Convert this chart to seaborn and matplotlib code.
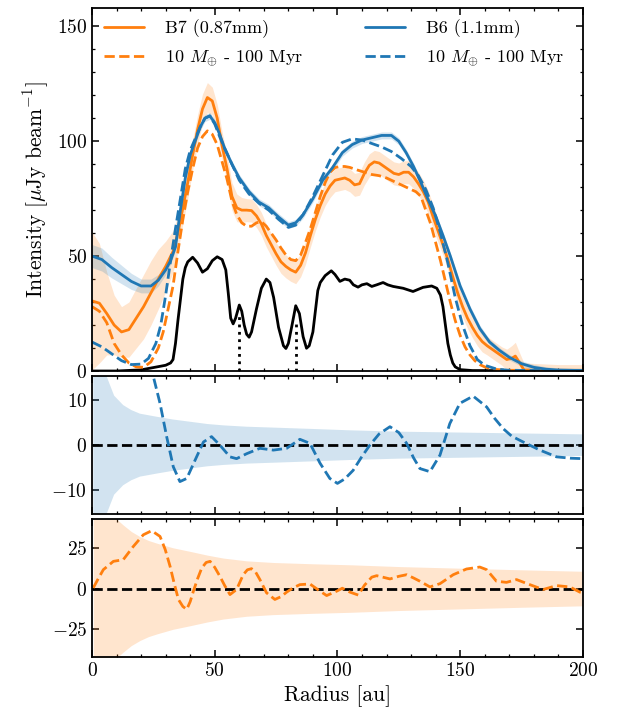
import numpy as np
import pandas as pd
import seaborn as sns
import matplotlib
matplotlib.use("Agg")
import matplotlib.pyplot as plt

# ---- radial profiles (top panel) ----
r_b6 = [0, 4, 8, 12, 16, 20, 24, 27, 30, 32, 34, 36, 38, 40, 42, 44, 46, 48, 50, 52, 54, 57,
        60, 64, 68, 72, 76, 80, 83, 86, 90, 94, 98, 102, 106, 110, 114, 118, 122, 125, 128,
        131, 134, 137, 140, 143, 146, 150, 154, 158, 162, 166, 170, 175, 180, 185, 190, 200]
b6 = [50, 48.5, 45, 42, 39, 37, 37, 39.5, 44, 48, 54, 70, 84, 94, 100, 106, 110, 111, 108,
      103, 97, 90, 84, 78, 73.5, 71, 67, 63.5, 64.5, 68, 75, 83, 88.5, 95, 98.5, 100.5, 101.5,
      102.5, 102.5, 100, 95, 89, 82, 74.5, 67.5, 59, 50, 37, 27, 18.5, 12.6, 9, 6, 3.2, 1.6,
      0.8, 0.4, 0.2]
b6_err = [5, 5, 4.5, 4, 3.5, 3, 3, 2.5, 2, 1.5, 1.5, 1.5, 1.5, 1.5, 1.5, 1.5, 1.5, 1.5, 1.5,
          1.5, 1.5, 1.5, 1.5, 1.5, 1.5, 1.5, 1.5, 1.5, 1.5, 1.5, 1.5, 1.5, 1.5, 1.5, 1.5, 1.5,
          1.5, 1.5, 1.5, 1.5, 1.5, 1.5, 1.5, 1.5, 1.5, 1.5, 1.5, 1.5, 1.5, 1.5, 1.2, 1.2, 1.2,
          1.2, 1.2, 1, 1, 1]

r_b6_mod = [0, 4, 8, 12, 16, 20, 23, 26, 28, 30, 32, 34, 36, 38, 40, 42, 44, 46, 48, 50, 52,
            54, 57, 60, 64, 68, 72, 76, 80, 83, 86, 90, 94, 98, 102, 106, 110, 114, 118, 122,
            126, 130, 133, 136, 139, 142, 145, 148, 151, 154, 157, 160, 165, 170, 200]
b6_mod = [12.6, 10.5, 7.5, 4.5, 2.8, 3, 5.5, 12, 20, 33, 48, 62, 75, 88, 96, 101, 106, 110,
          111, 107.5, 102, 97, 90, 83, 77, 73, 70, 66, 62.5, 63.5, 68, 76, 85, 94, 99.5, 101,
          100.5, 99, 97.5, 95.5, 92.5, 89, 85, 79, 71, 60, 47, 32, 20, 11, 5, 2.5, 0.8, 0.3, 0.1]

r_b7 = [0, 3, 6, 9, 12, 15, 18, 21, 24, 27, 30, 33, 35, 37, 39, 41, 43, 45, 47, 49, 51, 53,
        55, 57, 59, 61, 63, 65, 67, 69, 71, 73, 75, 77, 79, 81, 83, 85, 87, 89, 91, 93, 95,
        97, 99, 101, 103, 105, 107, 109, 111, 113, 115, 117, 119, 121, 123, 125, 127, 129,
        131, 133, 135, 137, 139, 141, 143, 145, 147, 149, 151, 153, 155, 157, 159, 161, 163,
        165, 167, 169, 171, 172.5, 174, 176, 180, 190, 200]
b7 = [30.5, 29.5, 25, 20, 17, 18, 23, 28, 34, 40, 45.5, 52, 60, 71, 82, 94, 105, 114, 119,
      117.5, 110, 98, 88, 76, 71, 70, 70, 69.8, 67.5, 64, 59, 55, 51, 47.5, 45.5, 44, 43, 46,
      51.5, 59, 66, 72, 77, 80.5, 83, 83.5, 84, 83, 81, 81.5, 86, 89.5, 91, 90.5, 89, 87.5,
      86, 85.5, 86.5, 86.5, 84.5, 81.5, 78, 73.5, 67, 61, 55, 48.5, 41, 34, 28, 23, 19, 15.5,
      12.8, 11, 9.5, 8, 6.5, 5, 5.5, 6.5, 4, 0.5, 0.3, 0.3, 0.3]
b7_err = [30, 26, 18, 13, 11, 12, 13, 14, 14, 13, 11, 9, 8, 7, 7, 6.5, 6.5, 6.5, 6.5, 6, 6,
          6, 6, 6, 6, 5.5, 5, 5, 5, 5, 5, 5, 5, 5, 5, 5, 5, 5, 5, 5, 5, 5, 5, 5, 5, 5, 5, 5, 5,
          5, 5, 5, 5, 5, 5, 5, 5, 5, 5, 5, 5, 5, 5, 5, 5, 5, 4.5, 4.5, 4.5, 4.5, 4.5, 4.5, 4.5,
          4.5, 4.5, 4, 4, 4, 4, 4.5, 5.5, 6, 4.5, 3, 3, 2.5, 2.5]

r_b7_mod = [0, 3, 6, 9, 12, 15, 18, 21, 24, 27, 29, 31, 33, 35, 37, 39, 41, 43, 45, 47, 49,
            51, 53, 55, 57, 59, 61, 63, 65, 67, 69, 71, 73, 75, 77, 79, 81, 83, 85, 87, 89, 91,
            93, 95, 97, 99, 101, 103, 105, 108, 111, 114, 117, 120, 123, 126, 129, 132, 134,
            136, 138, 140, 142, 144, 146, 148, 150, 152, 154, 156, 158, 160, 164, 170, 200]
b7_mod = [28, 26, 21, 12, 7, 3.5, 1.8, 1.6, 4, 10, 17, 27, 37, 52, 66, 78, 88, 97, 102,
          104.5, 103, 98.5, 91, 83.5, 74, 68, 64.5, 63, 63, 64.5, 65, 63, 60, 57, 53.5, 50.5,
          48.5, 48, 50.5, 56, 62, 69, 76, 82, 86.5, 88.5, 89, 89, 88.6, 87.5, 86.5, 85.5, 85,
          84, 82.5, 81, 79.5, 78, 76, 70, 64, 56, 48, 39, 30, 22, 15.5, 10.5, 7, 4.5, 2.8,
          1.8, 0.7, 0.3, 0.2]

r_black = [0, 10, 20, 25, 30, 32, 33, 34, 35, 36, 37, 38, 39, 41, 43, 45, 47, 49, 51, 53,
           54.5, 55.5, 56.5, 57.5, 58.5, 60, 61, 62, 63, 64, 65, 67, 69, 71, 72.5, 74, 76, 78,
           79, 80, 81.5, 83, 84.5, 86, 87.4, 88.5, 90, 91, 92, 93, 95, 97.5, 99, 101, 103, 105,
           106.5, 108.4, 110, 112, 114, 116, 118.6, 120.5, 122.7, 126.8, 130.8, 134.9, 138.4,
           140.5, 142, 143, 144, 145, 146, 147, 148, 150, 155, 200]
black = [0, 0, 0.5, 1.5, 2.5, 3.5, 5, 12, 22, 31, 40, 45, 47.5, 49.5, 47, 43, 44.5, 48, 49.7,
         48.5, 44, 34, 23, 20.5, 23, 28.7, 26, 20, 16, 14.7, 17, 27, 36, 40, 38.5, 32, 19, 11,
         9.8, 12, 20, 28.4, 25, 15, 9.9, 11, 17, 26, 35, 38.5, 41.5, 43.6, 42, 39, 40, 39.5,
         37.5, 36.5, 37.5, 38, 36.8, 37.5, 38.5, 37.5, 36.8, 36, 34.6, 36.4, 37, 36, 33, 28, 20,
         12, 7, 3.5, 1.8, 0.6, 0.2, 0.1]

planet_r = [60, 83]
planet_top = [24, 22]

# ---- residuals (middle: B6, bottom: B7) ----
r_res6 = [0, 10, 18, 22, 25, 27.7, 30.4, 33.1, 35.8, 38.6, 42.6, 45.4, 48.7, 52.1, 56.2, 58.9,
          63, 68.4, 73.9, 79.3, 84.7, 88.8, 92.9, 96.9, 100, 103, 106.4, 110, 113.2, 117, 121.4,
          125, 128.2, 131, 133.6, 137.7, 141.8, 145.8, 149.9, 155.3, 160.8, 164, 167.5, 171,
          175.7, 182.5, 189.3, 195, 200]
res6 = [40, 35, 28, 21, 15.2, 9.3, 1.9, -4.8, -8.1, -7.4, -2.6, 0.7, 1.9, 0, -2.6, -3, -1.9,
        -0.7, -1.1, -0.7, 1.3, 0.4, -4, -7.4, -8.5, -7.5, -5.6, -2.5, 0, 2.5, 4.1, 2.8, 0.4,
        -2.8, -5.2, -5.9, -2.2, 4.8, 9.3, 10.9, 8.5, 6, 3.7, 2, 0.7, -1.1, -2.6, -2.9, -3]

r_noise6 = [0.5, 2, 4, 6, 9, 12.7, 16, 19.5, 26.5, 33, 40, 47, 53.5, 63, 74, 90, 105, 125,
            150, 175, 200]
noise6 = [80, 40, 22, 15.2, 11, 8.9, 7.8, 7, 6.3, 5.7, 5.2, 4.7, 4.4, 4.1, 3.9, 3.6, 3.3, 3,
          2.8, 2.6, 2.4]

r_res7 = [0.5, 2.5, 4.6, 8.7, 12.7, 16.8, 20.9, 24.3, 27.7, 29.8, 31.8, 33.5, 35.2, 37, 38.6,
          40, 41.3, 43, 44.7, 46.5, 48.1, 50, 52.1, 54, 56.2, 58.9, 61.6, 63.3, 65, 66.7, 68.4,
          71.1, 74.5, 77, 79.3, 82, 84.7, 88.8, 92.9, 95.6, 99.7, 102, 105.1, 108.5, 111, 114,
          116, 121.4, 125, 128.2, 131, 133.6, 137.7, 141.8, 147.2, 152.6, 158, 160.8, 164.8,
          168.9, 173, 178.4, 183.8, 189.3, 194.7, 198.8, 200]
res7 = [0.4, 6, 11.6, 16.7, 17.7, 25.8, 33, 35.5, 32, 24, 13.6, 3, -6.7, -11, -12.8, -8, -1.6,
        6, 12.6, 16, 16.7, 13, 7.5, 2, -3.7, -0.6, 8.5, 11.5, 12.2, 10, 5.5, -2.6, -6.7, -5,
        -2.2, 0.5, 2.4, 2.8, -1.6, -4.3, -1.6, 0.2, -2.2, -4, 2, 7, 7.9, 5.9, 7.5, 8.5, 6.5,
        4.5, 1, 3, 8.5, 12, 13.2, 11.6, 4.5, 3.8, 5.5, 2.4, -0.6, 1.8, 1, -2.2, -2.5]

r_noise7 = [0.5, 2, 5, 8, 10, 12.7, 16, 19.5, 23, 26.5, 33, 40, 47, 53.5, 63, 73.8, 90, 105,
            125, 150, 175, 200]
noise7 = [90, 70, 50, 44, 42.6, 39, 35, 31.9, 29.5, 27.8, 25, 22.8, 20.5, 18.7, 17, 16, 15.2,
          14.6, 13.5, 12.5, 11.5, 10.6]

ORANGE = "#ff7f0e"
BLUE = "#1f77b4"

sns.set_style("ticks")
plt.rcParams["font.family"] = ["cmr10", "DejaVu Serif"]
plt.rcParams["mathtext.fontset"] = "cm"
plt.rcParams["axes.formatter.use_mathtext"] = True
plt.rcParams["axes.unicode_minus"] = True
plt.rcParams["axes.linewidth"] = 1.3
plt.rcParams["axes.edgecolor"] = "black"
plt.rcParams["text.color"] = "black"
plt.rcParams["axes.labelcolor"] = "black"
for a in ("x", "y"):
    plt.rcParams[f"{a}tick.direction"] = "in"
    plt.rcParams[f"{a}tick.major.size"] = 5
    plt.rcParams[f"{a}tick.minor.size"] = 2.5
    plt.rcParams[f"{a}tick.major.width"] = 1.1
    plt.rcParams[f"{a}tick.minor.width"] = 0.9
    plt.rcParams[f"{a}tick.labelsize"] = 14
    plt.rcParams[f"{a}tick.color"] = "black"
    plt.rcParams[f"{a}tick.labelcolor"] = "black"
plt.rcParams["xtick.top"] = True
plt.rcParams["ytick.right"] = True

fig, (ax1, ax2, ax3) = plt.subplots(
    3, 1, figsize=(6.22, 7.18), dpi=100, sharex=True,
    gridspec_kw={"height_ratios": [364, 138, 138], "hspace": 0.025})
fig.subplots_adjust(left=0.148, right=0.937, top=0.989, bottom=0.085)

lw = 2.0

# top panel
b6_lo = np.array(b6) - np.array(b6_err)
b6_hi = np.array(b6) + np.array(b6_err)
b7_lo = np.array(b7) - np.array(b7_err)
b7_hi = np.array(b7) + np.array(b7_err)
ax1.fill_between(r_b7, b7_lo, b7_hi, color=ORANGE, alpha=0.2, lw=0)
ax1.fill_between(r_b6, b6_lo, b6_hi, color=BLUE, alpha=0.2, lw=0)

sns.lineplot(x=r_black, y=black, ax=ax1, color="black", lw=lw, estimator=None, sort=False)
ax1.vlines(planet_r, 0, planet_top, colors="black", linestyles=":", lw=lw)
sns.lineplot(x=r_b7, y=b7, ax=ax1, color=ORANGE, lw=lw, estimator=None, sort=False,
             label="B7 (0.87mm)")
sns.lineplot(x=r_b7_mod, y=b7_mod, ax=ax1, color=ORANGE, lw=lw, ls="--", estimator=None,
             sort=False, label=r"10 $M_{\oplus}$ - 100 Myr")
sns.lineplot(x=r_b6, y=b6, ax=ax1, color=BLUE, lw=lw, estimator=None, sort=False,
             label="B6 (1.1mm)")
sns.lineplot(x=r_b6_mod, y=b6_mod, ax=ax1, color=BLUE, lw=lw, ls="--", estimator=None,
             sort=False, label=r"10 $M_{\oplus}$ - 100 Myr")

ax1.set_ylim(0, 158)
ax1.set_yticks([0, 50, 100, 150])
ax1.set_yticks(np.arange(0, 160, 10), minor=True)
ax1.set_ylabel(r"Intensity [$\mu$Jy beam$^{-1}$]", fontsize=15.5)
ax1.legend(loc="upper left", ncol=2, frameon=False, fontsize=13, columnspacing=3.4,
           handlelength=2.2, handletextpad=1.2, borderaxespad=0.25, labelspacing=0.6)

# middle panel (B6 residual)
n6 = np.array(noise6)
ax2.fill_between(r_noise6, -n6, n6, color=BLUE, alpha=0.2, lw=0)
ax2.axhline(0, color="black", ls="--", lw=lw)
sns.lineplot(x=r_res6, y=res6, ax=ax2, color=BLUE, lw=lw, ls="--", estimator=None, sort=False)
ax2.set_ylim(-15.3, 15.3)
ax2.set_yticks([-10, 0, 10])

# bottom panel (B7 residual)
n7 = np.array(noise7)
ax3.fill_between(r_noise7, -n7, n7, color=ORANGE, alpha=0.2, lw=0)
ax3.axhline(0, color="black", ls="--", lw=lw)
sns.lineplot(x=r_res7, y=res7, ax=ax3, color=ORANGE, lw=lw, ls="--", estimator=None, sort=False)
ax3.set_ylim(-42, 42.5)
ax3.set_yticks([-25, 0, 25])
ax3.set_xlabel("Radius [au]", fontsize=15.5)

for ax in (ax1, ax2, ax3):
    ax.set_xlim(0, 200)
    ax.set_xticks([0, 50, 100, 150, 200])
    ax.set_xticks(np.arange(0, 201, 10), minor=True)
    ax.tick_params(which="both", top=True, right=True)
    ax.tick_params(axis="y", which="minor", left=ax is ax1, right=ax is ax1)

fig.savefig("out.png", dpi=100)
